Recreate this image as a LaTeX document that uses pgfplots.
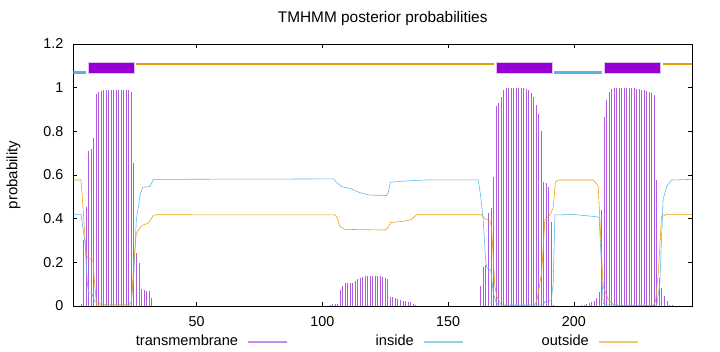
\documentclass[border=0pt]{standalone}
\usepackage{fontspec}
\setmainfont{Liberation Sans}
\usepackage{pgfplots}
\usepackage{pgfplotstable}
\pgfplotsset{compat=1.18}
\definecolor{tmdark}{RGB}{148,0,211}
\definecolor{tmline}{RGB}{178,90,226}
\definecolor{tmedge}{RGB}{225,190,240}
\definecolor{incol}{RGB}{86,180,233}
\definecolor{outcol}{RGB}{230,159,0}
\definecolor{tmkey}{RGB}{198,138,236}
\definecolor{inkey}{RGB}{150,205,236}
\definecolor{outkey}{RGB}{242,200,115}

\pgfplotstableread{
x y
4 0.010
5 0.300
6 0.455
7 0.710
8 0.720
9 0.770
10 0.970
11 0.980
12 0.985
13 0.990
14 0.990
15 0.990
16 0.990
17 0.990
18 0.990
19 0.990
20 0.990
21 0.990
22 0.990
23 0.988
24 0.982
25 0.656
26 0.244
27 0.198
28 0.077
29 0.072
30 0.070
31 0.068
32 0.038
33 0.002
103 0.003
104 0.009
105 0.009
106 0.009
107 0.073
108 0.092
109 0.104
110 0.105
111 0.105
112 0.106
113 0.114
114 0.122
115 0.128
116 0.131
117 0.136
118 0.138
119 0.138
120 0.138
121 0.138
122 0.138
123 0.136
124 0.131
125 0.127
126 0.122
127 0.043
128 0.040
129 0.038
130 0.034
131 0.026
132 0.025
133 0.024
134 0.018
135 0.017
136 0.007
137 0.003
138 0.002
163 0.092
164 0.180
165 0.188
166 0.425
167 0.447
168 0.592
169 0.915
170 0.930
171 0.955
172 0.989
173 0.997
174 1.000
175 1.000
176 1.000
177 1.000
178 1.000
179 1.000
180 0.998
181 0.994
182 0.989
183 0.975
184 0.955
185 0.920
186 0.880
187 0.800
188 0.569
189 0.562
190 0.547
191 0.386
192 0.005
203 0.003
204 0.005
205 0.009
206 0.012
207 0.017
208 0.024
209 0.035
210 0.063
211 0.440
212 0.867
213 0.944
214 0.982
215 0.993
216 0.997
217 0.998
218 0.998
219 0.998
220 0.998
221 0.998
222 0.998
223 0.997
224 0.997
225 0.995
226 0.993
227 0.989
228 0.989
229 0.985
230 0.982
231 0.974
232 0.967
233 0.577
234 0.127
235 0.081
236 0.046
237 0.024
238 0.005
239 0.003
}\tmdata

\pgfplotstableread{
x y
1 0.420
4 0.420
5 0.340
5.6 0.288
6.5 0.110
7 0.060
8.2 0.060
9.5 0.020
11.5 0.010
14 0.005
23 0.005
24 0.020
25 0.140
25.5 0.270
26 0.394
27.5 0.508
28.5 0.544
31.4 0.547
32.8 0.580
104.5 0.582
105.3 0.570
107.6 0.547
111.6 0.536
114.9 0.519
118.9 0.508
125.5 0.506
126.2 0.520
127.1 0.567
133.5 0.573
142.8 0.578
162 0.578
163 0.500
164 0.390
165 0.200
165.5 0.175
167 0.162
168 0.060
169 0.020
170 0.005
187.8 0.005
188.5 0.020
191 0.025
191.8 0.100
192.5 0.417
200 0.419
209 0.409
210.1 0.405
211.7 0.012
212.5 0.005
233 0.003
234.2 0.100
235.5 0.486
236.9 0.547
238.9 0.577
247 0.580
}\indata

\pgfplotstableread{
x y
1 0.577
4 0.577
4.5 0.500
6 0.243
6.5 0.222
8.8 0.210
9.3 0.120
10.2 0.005
24 0.005
25 0.200
26 0.330
27.5 0.360
28.5 0.370
30.8 0.380
32.8 0.415
34 0.418
105 0.417
105.7 0.410
107 0.363
109 0.351
124.9 0.348
126.2 0.360
127.1 0.382
133.5 0.390
135.5 0.397
137.5 0.418
162 0.418
163.3 0.418
164.6 0.400
166.6 0.390
167.3 0.360
168.6 0.090
169.5 0.040
171 0.008
172 0.003
184.5 0.003
185.4 0.030
187.2 0.150
188.5 0.394
190.5 0.417
191.8 0.450
192.7 0.569
194 0.577
207.7 0.577
209 0.560
209.7 0.550
211.7 0.090
213.7 0.030
216 0.003
231.6 0.003
232.5 0.020
233.6 0.150
234.9 0.409
237 0.420
247 0.420
}\outdata

\begin{document}
\begin{tikzpicture}
\begin{axis}[
  at={(0,0)}, anchor=south west, scale only axis,
  width=618.5pt, height=262pt,
  xmin=1, xmax=247, ymin=0, ymax=1.2,
  xtick={50,100,150,200},
  ytick={0,0.2,0.4,0.6,0.8,1,1.2},
  tick align=inside, major tick length=4pt,
  tick style={black, line width=0.5pt},
  axis line style={black, line width=0.7pt},
  /pgf/number format/assume math mode=true,
  tick label style={font=\fontsize{14.3}{16}\selectfont, inner sep=0pt},
  yticklabel style={xshift=-10pt},
  xticklabel style={yshift=-10.5pt},
  title={TMHMM posterior probabilities},
  title style={at={(axis description cs:0.5,1)}, anchor=base, yshift=15.4pt, inner sep=0pt, font=\fontsize{15.4}{17}\selectfont},
  ylabel={probability},
  ylabel style={at={(axis description cs:-0.097,0.5)}, anchor=center, inner sep=0pt, font=\fontsize{15}{17}\selectfont},
]
\addplot[ycomb, color=tmline, line width=0.6pt] table[x=x, y=y] {\tmdata};
\addplot[color=incol, line width=0.55pt] table[x=x, y=y] {\indata};
\addplot[color=outcol, line width=0.55pt] table[x=x, y=y] {\outdata};
% topology bars
\addplot[color=incol, line width=2.4pt] coordinates {(1,1.07) (5.9,1.07)};
\addplot[color=outcol, line width=2.4pt] coordinates {(26.0,1.109) (168.1,1.109)};
\addplot[color=incol, line width=2.4pt] coordinates {(192.2,1.07) (211.2,1.07)};
\addplot[color=outcol, line width=2.4pt] coordinates {(235.3,1.109) (247,1.109)};
\addplot[fill=tmdark, draw=tmedge, line width=0.6pt] coordinates {(6.9,1.065) (25.1,1.065) (25.1,1.115) (6.9,1.115)} -- cycle;
\addplot[fill=tmdark, draw=tmedge, line width=0.6pt] coordinates {(169.1,1.065) (191.3,1.065) (191.3,1.115) (169.1,1.115)} -- cycle;
\addplot[fill=tmdark, draw=tmedge, line width=0.6pt] coordinates {(212.2,1.065) (234.3,1.065) (234.3,1.115) (212.2,1.115)} -- cycle;
\end{axis}
% key (text, then sample line), as gnuplot draws it
\begin{scope}[font=\fontsize{14.6}{16}\selectfont]
\node[anchor=base east, inner sep=0pt] at (164.85pt,-39.7pt) {transmembrane};
\draw[color=tmkey, line width=1.3pt] (174.85pt,-36pt) -- (213.35pt,-36pt);
\node[anchor=base east, inner sep=0pt] at (340.55pt,-39.7pt) {inside};
\draw[color=inkey, line width=1.3pt] (350.55pt,-36pt) -- (389.05pt,-36pt);
\node[anchor=base east, inner sep=0pt] at (515.55pt,-39.7pt) {outside};
\draw[color=outkey, line width=1.3pt] (525.55pt,-36pt) -- (564.05pt,-36pt);
\end{scope}
\pgfresetboundingbox
\path (-73.45pt,-46pt) rectangle (646.55pt,306pt);
\end{tikzpicture}
\end{document}
